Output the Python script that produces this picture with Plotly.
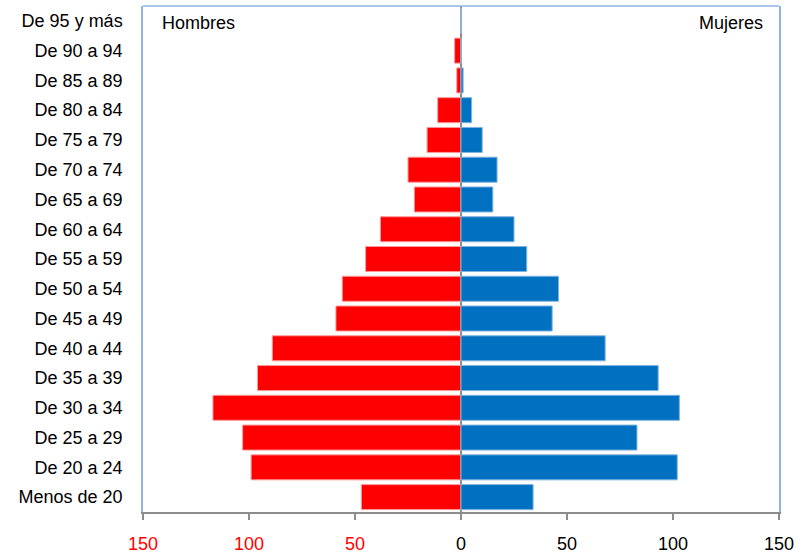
import plotly.graph_objects as go

categories = ["Menos de 20", "De 20 a 24", "De 25 a 29", "De 30 a 34", "De 35 a 39",
              "De 40 a 44", "De 45 a 49", "De 50 a 54", "De 55 a 59", "De 60 a 64",
              "De 65 a 69", "De 70 a 74", "De 75 a 79", "De 80 a 84", "De 85 a 89",
              "De 90 a 94", "De 95 y más"]
hombres = [47, 99, 103, 117, 96, 89, 59, 56, 45, 38, 22, 25, 16, 11, 2, 3, 0]
mujeres = [34, 102, 83, 103, 93, 68, 43, 46, 31, 25, 15, 17, 10, 5, 1, 0, 0]
tick_vals = [-150, -100, -50, 0, 50, 100, 150]
tick_text = ["<span style='color:#FF0000'>150</span>",
             "<span style='color:#FF0000'>100</span>",
             "<span style='color:#FF0000'>50</span>",
             "0", "50", "100", "150"]

FONT = "Liberation Sans, Arial, sans-serif"
FS = 18

fig = go.Figure()
fig.add_trace(go.Bar(
    y=categories, x=[-v for v in hombres], orientation="h", name="Hombres",
    marker=dict(color="#FF0000", line=dict(color="#FF9A9A", width=1)),
    hoverinfo="skip"))
fig.add_trace(go.Bar(
    y=categories, x=mujeres, orientation="h", name="Mujeres",
    marker=dict(color="#0070C0", line=dict(color="#7FB3E0", width=1)),
    hoverinfo="skip"))

fig.update_layout(
    width=805, height=555,
    margin=dict(l=143, r=26, t=6, b=43),
    barmode="relative", bargap=0.16,
    showlegend=False,
    paper_bgcolor="white", plot_bgcolor="white",
    font=dict(family=FONT, size=FS, color="#000000"),
    xaxis=dict(
        range=[-150, 150], tickvals=tick_vals, ticktext=tick_text,
        showgrid=False, zeroline=True, zerolinecolor="#8C8C8C", zerolinewidth=2,
        showline=True, linecolor="#8C8C8C", linewidth=2,
        ticks="outside", ticklen=6, tickcolor="#8C8C8C", tickwidth=2,
        ticklabelstandoff=8, layer="above traces", fixedrange=True,
        automargin=False,
    ),
    yaxis=dict(
        type="category", categoryorder="array", categoryarray=categories,
        showgrid=False, zeroline=False,
        showline=True, linecolor="#8EB4E3", linewidth=1.5, mirror=True,
        ticks="", ticklabelstandoff=15, fixedrange=True, automargin=False,
    ),
    shapes=[dict(type="line", xref="paper", yref="paper", x0=0, x1=1, y0=1, y1=1,
                 line=dict(color="#8EB4E3", width=1.5))],
    annotations=[
        dict(text="Hombres", xref="paper", yref="paper", x=0.027, y=0.966,
             xanchor="left", yanchor="middle", showarrow=False,
             font=dict(family=FONT, size=FS, color="#000000")),
        dict(text="Mujeres", xref="paper", yref="paper", x=0.978, y=0.966,
             xanchor="right", yanchor="middle", showarrow=False,
             font=dict(family=FONT, size=FS, color="#000000")),
    ],
)

fig.write_html("out.html", config={"displayModeBar": False},
               post_script="document.body.style.margin='0';document.body.style.overflow='hidden';")
